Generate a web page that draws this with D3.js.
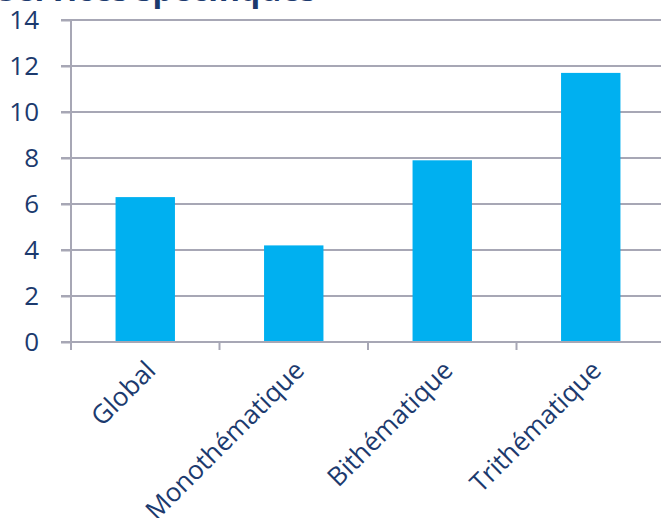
<!DOCTYPE html>
<html>
<head>
<meta charset="utf-8">
<script src="https://d3js.org/d3.v7.min.js"></script>
<style>
  html, body { margin: 0; padding: 0; background: #ffffff; }
  svg { display: block; }
</style>
</head>
<body>
<script>
const title = "Services spécifiques";
const categories = ["Global", "Monothématique", "Bithématique", "Trithématique"];
const values = [6.3, 4.2, 7.9, 11.7];
const yTicks = [0, 2, 4, 6, 8, 10, 12, 14];

const W = 661, H = 518;
const navy = "#1c3a6e";
const grid = "#a7a7b5";
const barColor = "#00b0f0";
const font = "'Open Sans', 'Noto Sans', sans-serif";

const svg = d3.select("body").append("svg").attr("width", W).attr("height", H);

const x = d3.scaleBand().domain(categories).range([71, 665]).paddingInner(0).paddingOuter(0);
const y = d3.scaleLinear().domain([0, 14]).range([342, 20]);

// title (partially cut at top)
svg.append("text")
  .attr("x", -2).attr("y", 1)
  .attr("font-family", font).attr("font-weight", "bold").attr("font-size", 32)
  .attr("fill", navy)
  .text(title);

// gridlines
svg.append("g").selectAll("line").data(yTicks.filter(d => d !== 0)).join("line")
  .attr("x1", 61).attr("x2", W)
  .attr("y1", d => y(d)).attr("y2", d => y(d))
  .attr("stroke", grid).attr("stroke-width", 2);

// bars
const bw = x.bandwidth() * 0.4;
svg.append("g").selectAll("rect").data(values).join("rect")
  .attr("x", (d, i) => x(categories[i]) + (x.bandwidth() - bw) / 2)
  .attr("y", d => y(d))
  .attr("width", bw)
  .attr("height", d => y(0) - y(d))
  .attr("fill", barColor);

// y axis
const yAxis = svg.append("g").attr("transform", "translate(71,0)")
  .call(d3.axisLeft(y).tickValues(yTicks).tickSize(10).tickPadding(22).tickFormat(d3.format("d")));
yAxis.select(".domain").attr("stroke", grid).attr("stroke-width", 2).attr("d", `M0,${y(14)}V${y(0)+8}`);
yAxis.selectAll(".tick line").attr("stroke", grid).attr("stroke-width", 2);
yAxis.selectAll(".tick text")
  .attr("font-family", font).attr("font-size", 26).attr("fill", navy);

// x axis
const xAxis = svg.append("g").attr("transform", `translate(0,${y(0)})`)
  .call(d3.axisBottom(x).tickSize(0).tickFormat(""));
xAxis.select(".domain").attr("stroke", grid).attr("stroke-width", 2).attr("d", `M61,0H${W}`);
xAxis.selectAll(".tick line").remove();
// category boundary ticks
svg.append("g").selectAll("line").data(categories.slice(1)).join("line")
  .attr("x1", d => x(d)).attr("x2", d => x(d))
  .attr("y1", y(0)).attr("y2", y(0) + 8)
  .attr("stroke", grid).attr("stroke-width", 2);

// rotated category labels
svg.append("g").selectAll("text").data(categories).join("text")
  .attr("transform", d => `translate(${x(d) + x.bandwidth() / 2 + 12},${y(0) + 30}) rotate(-45)`)
  .attr("text-anchor", "end")
  .attr("font-family", font).attr("font-size", 26).attr("fill", navy)
  .text(d => d);
</script>
</body>
</html>
